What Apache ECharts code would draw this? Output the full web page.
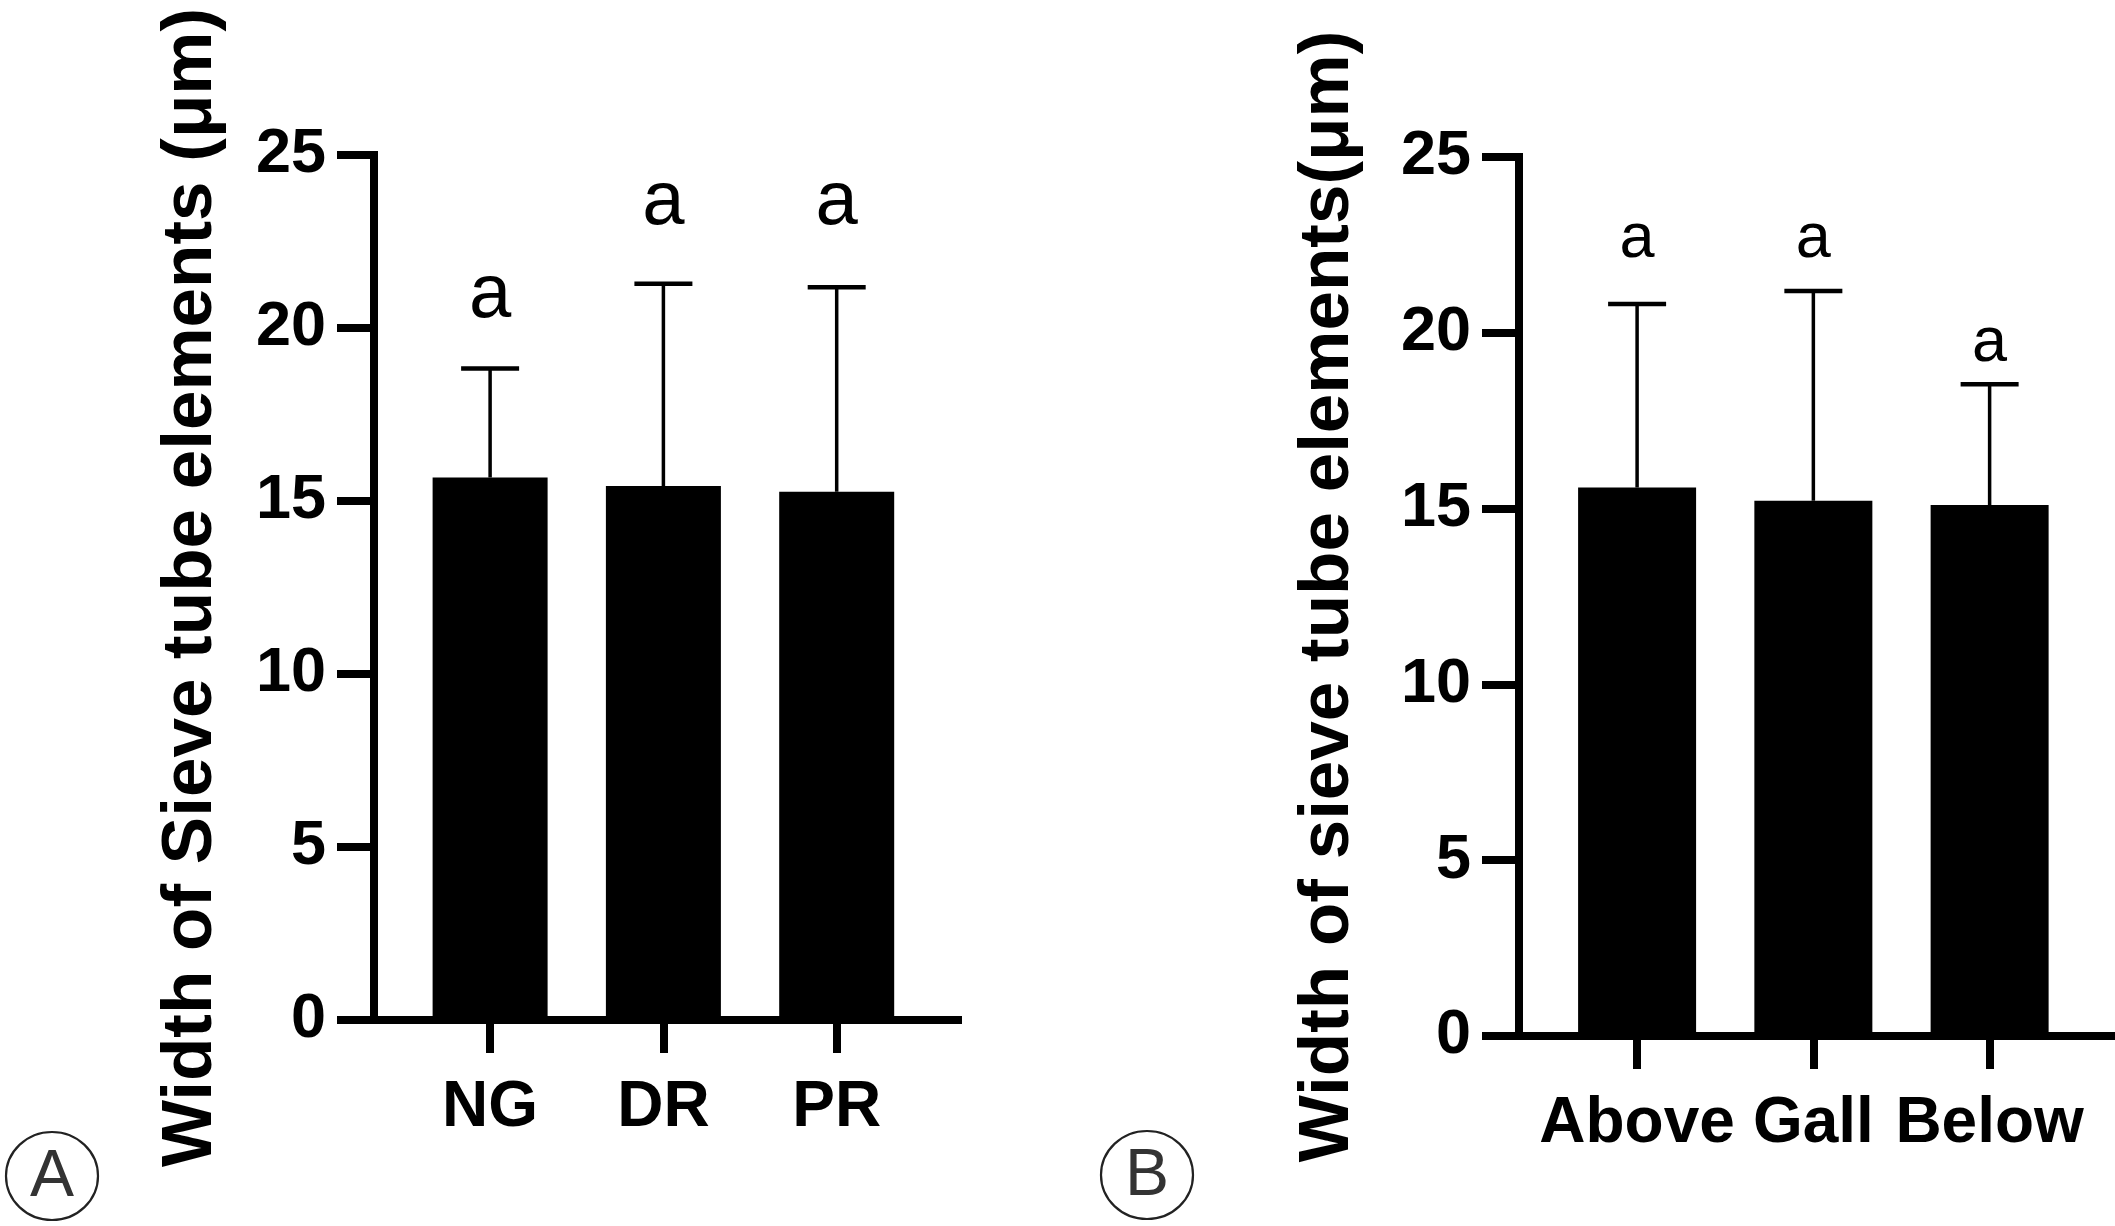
<!DOCTYPE html>
<html>
<head>
<meta charset="utf-8">
<script src="https://cdn.jsdelivr.net/npm/echarts@6/dist/echarts.min.js"></script>
<style>
html,body{margin:0;padding:0;background:#fff;}
#chart{width:2115px;height:1226px;}
</style>
</head>
<body>
<div id="chart"></div>
<script>
// ---- Data ----
const categoriesA = ['NG', 'DR', 'PR'];
const meanA = [15.68, 15.43, 15.27];
const sdA = [3.15, 5.85, 5.91];
const lettersA = ['a', 'a', 'a'];
const letterYA = [20.3, 23.0, 23.0];

const categoriesB = ['Above', 'Gall', 'Below'];
const meanB = [15.60, 15.22, 15.10];
const sdB = [5.22, 5.97, 3.44];
const lettersB = ['a', 'a', 'a'];
const letterYB = [22.15, 22.15, 19.2];

const yTicks = [0, 5, 10, 15, 20, 25];
const titleA = 'Width of Sieve tube elements (μm)';
const titleB = 'Width of sieve tube elements(μm)';

// ---- Build ----
const FONT = '"Liberation Sans", Arial, sans-serif';
const chart = echarts.init(document.getElementById('chart'), null, {renderer: 'canvas'});

function xAxisFor(idx, cats) {
  return {
    type: 'value', gridIndex: idx, min: -0.67, max: 2.7,
    splitLine: {show: false},
    axisLine: {show: true, onZero: false, lineStyle: {color: '#000', width: 8, cap: 'square'}},
    axisTick: {show: true, customValues: [0, 1, 2], length: 33, lineStyle: {color: '#000', width: 8}},
    axisLabel: {show: true, customValues: [0, 1, 2], margin: 56,
      formatter: v => cats[Math.round(v)],
      color: '#000', fontSize: 64, fontWeight: 'bold', fontFamily: FONT}
  };
}
function yAxisFor(idx, title, gap) {
  return {
    type: 'value', gridIndex: idx, min: yTicks[0], max: yTicks[yTicks.length - 1], interval: yTicks[1] - yTicks[0],
    splitLine: {show: false},
    axisLine: {show: true, onZero: false, lineStyle: {color: '#000', width: 8, cap: 'square'}},
    axisTick: {show: true, length: 37, lineStyle: {color: '#000', width: 8}},
    axisLabel: {margin: 48, color: '#000', fontSize: 63, fontWeight: 'bold', fontFamily: FONT},
    name: title, nameLocation: 'middle', nameRotate: 90, nameGap: gap,
    nameTextStyle: {color: '#000', fontSize: 71, fontWeight: 'bold', fontFamily: FONT, lineHeight: 72}
  };
}
function barSeries(idx, mean, w) {
  return {
    type: 'bar', xAxisIndex: idx, yAxisIndex: idx, barWidth: w,
    itemStyle: {color: '#000'},
    data: mean.map((m, i) => [i, m]), silent: true
  };
}
function errSeries(idx, mean, sd) {
  return {
    type: 'custom', xAxisIndex: idx, yAxisIndex: idx, silent: true,
    data: mean.map((m, i) => [i, m, sd[i]]),
    renderItem: (params, api) => {
      const x = api.value(0), m = api.value(1), s = api.value(2);
      const b = api.coord([x, m]);
      const t = api.coord([x, m + s]);
      return {type: 'group', children: [
        {type: 'line', shape: {x1: b[0], y1: b[1], x2: t[0], y2: t[1]}, style: {stroke: '#000', lineWidth: 3.5}},
        {type: 'line', shape: {x1: t[0] - 29, y1: t[1], x2: t[0] + 29, y2: t[1]}, style: {stroke: '#000', lineWidth: 4.5}}
      ]};
    }
  };
}
function letterSeries(idx, letters, ys, size) {
  return {
    type: 'custom', xAxisIndex: idx, yAxisIndex: idx, silent: true,
    data: ys.map((y, i) => [i, y]),
    renderItem: (params, api) => {
      const p = api.coord([api.value(0), api.value(1)]);
      return {type: 'text', x: p[0], y: p[1] + size * 0.22, style: {
        text: letters[params.dataIndex], fill: '#000', fontSize: size,
        fontFamily: FONT, align: 'center', verticalAlign: 'bottom', lineHeight: size}};
    }
  };
}

const option = {
  backgroundColor: '#fff',
  animation: false,
  grid: [
    {left: 374, top: 155, width: 584, height: 865},
    {left: 1519, top: 157, width: 594, height: 879}
  ],
  xAxis: [xAxisFor(0, categoriesA), xAxisFor(1, categoriesB)],
  yAxis: [yAxisFor(0, titleA, 147), yAxisFor(1, titleB, 155)],
  series: [
    barSeries(0, meanA, 115), errSeries(0, meanA, sdA), letterSeries(0, lettersA, letterYA, 76),
    barSeries(1, meanB, 118), errSeries(1, meanB, sdB), letterSeries(1, lettersB, letterYB, 63)
  ],
  graphic: [
    {type: 'ellipse', shape: {cx: 52, cy: 1176, rx: 46, ry: 44}, style: {fill: 'none', stroke: '#222', lineWidth: 2.2}},
    {type: 'text', x: 52, y: 1178, style: {text: 'A', fill: '#333', fontSize: 66, fontFamily: FONT, align: 'center', verticalAlign: 'middle'}},
    {type: 'ellipse', shape: {cx: 1147, cy: 1175, rx: 46, ry: 44}, style: {fill: 'none', stroke: '#222', lineWidth: 2.2}},
    {type: 'text', x: 1147, y: 1177, style: {text: 'B', fill: '#333', fontSize: 66, fontFamily: FONT, align: 'center', verticalAlign: 'middle'}}
  ]
};
chart.setOption(option);
</script>
</body>
</html>
